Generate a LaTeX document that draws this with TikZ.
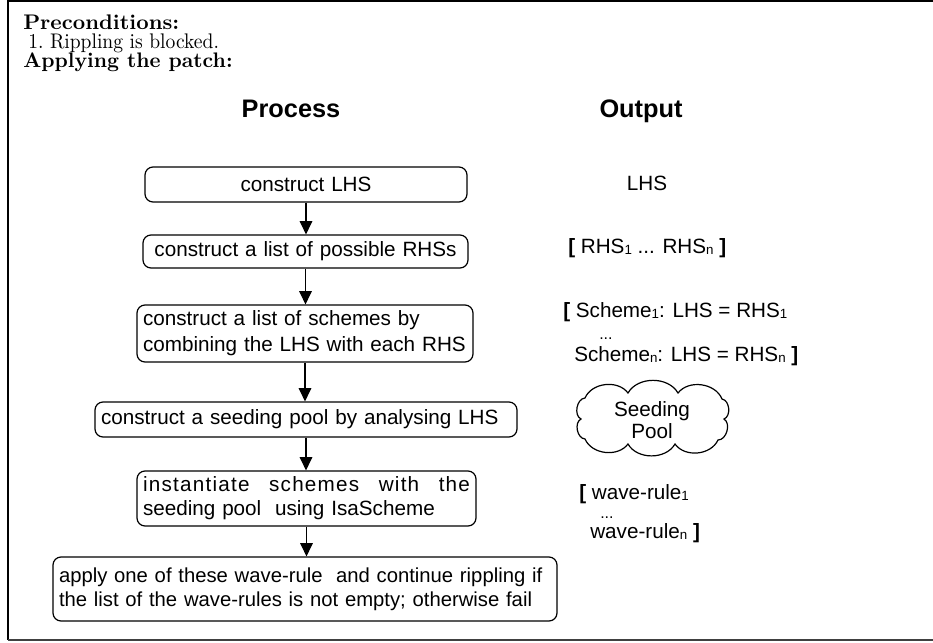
\documentclass[tikz,border=0pt]{standalone}
\usepackage{fontspec}
\newfontfamily\hv{Liberation Sans}
\usetikzlibrary{arrows.meta}
\newcommand\sbs[1]{{\fontsize{10}{10}\selectfont\raisebox{-1pt}{#1}}}
\newcommand\brk[1]{{\bfseries #1}}
\begin{document}
\begin{tikzpicture}[x=0.75pt,y=-0.75pt,
  proc/.style={draw,rounded corners=6pt,line width=0.9pt,inner xsep=4.5pt,inner ysep=0pt,
    font=\hv\fontsize{15.5}{18}\selectfont},
  arr/.style={-{Triangle[length=10pt,width=9.5pt]},line width=0.9pt},
  outtxt/.style={font=\hv\fontsize{15.5}{18}\selectfont,inner sep=0pt,anchor=base west},
  dots/.style={font=\hv\fontsize{12}{12}\selectfont,inner sep=0pt,anchor=base west},
  headtxt/.style={font=\fontsize{10}{12}\selectfont\bfseries,inner sep=0pt,anchor=base west},
  bodytxt/.style={font=\fontsize{10}{12}\selectfont,inner sep=0pt,anchor=base west},
  coltitle/.style={font=\hv\fontsize{19}{22}\selectfont\bfseries,inner sep=0pt,anchor=base},
  puff/.style={line width=0.9pt}]
\useasboundingbox (0,0) rectangle (933,643);
% frame
\draw[line width=1pt] (933,1) -- (8,1) -- (8,640);
\draw[line width=1.6pt,black!75] (8,640) -- (933,640);
% header texts
\node[headtxt] (pre) at (23,29) {\resizebox{117pt}{11pt}{Preconditions:}};
\node[bodytxt] (item) at (28,48) {\resizebox{143pt}{11pt}{1.\ Rippling is blocked.}};
\node[headtxt] (app) at (23,67) {\resizebox{157pt}{11pt}{Applying the patch:}};
% column titles
\node[coltitle] (proc) at (291,117) {Process};
\node[coltitle] (outp) at (641,117) {Output};
% process boxes
\node[proc,text width=232.5pt,minimum height=26.25pt,align=center] (b1) at (306,184.5) {construct LHS};
\node[proc,text width=234.75pt,minimum height=24.75pt,align=center] (b2) at (305.5,251.5) {construct a list of possible RHSs};
\node[proc,text width=243pt,minimum height=42.75pt,align=left,font=\hv\fontsize{15.5}{19.5}\selectfont] (b3) at (305,333.5) {construct a list of schemes by\\combining the LHS with each RHS};
\node[proc,text width=307.5pt,minimum height=26.25pt,align=left] (b4) at (306,419.5) {construct a seeding pool by analysing LHS};
\node[proc,text width=245.25pt,minimum height=41.25pt,align=left] (b5) at (306.5,498.5) {{\addfontfeatures{LetterSpace=6}instantiate\hfill schemes\hfill with\hfill the}\\seeding pool\ \ using IsaScheme};
\node[proc,text width=369pt,minimum height=48pt,align=left,inner xsep=4.5pt,font=\hv\fontsize{15.2}{18}\selectfont] (b6) at (305,589) {apply one of these wave-rule\ \ and continue rippling if\\the list of the wave-rules is not empty; otherwise fail};
% arrows
\draw[arr] (b1.south) -- (b1.south |- b2.north);
\draw[arr] (b2.south) -- (b2.south |- b3.north);
\draw[arr] (b3.south) -- (b3.south |- b4.north);
\draw[arr] (b4.south) -- (b4.south |- b5.north);
\draw[arr] (b5.south) -- (b5.south |- b6.north);
% outputs
\node[outtxt,anchor=base] (o1) at (647,190) {LHS};
\node[outtxt] (o2) at (568,253) {\brk{[} RHS\sbs{1} ... RHS\sbs{n} \brk{]}};
\node[outtxt] (o3a) at (563,317) {\brk{[} Scheme\sbs{1}: LHS = RHS\sbs{1}};
\node[dots] (o3b) at (599,339) {...};
\node[outtxt] (o3c) at (574,361) {Scheme\sbs{n}: LHS = RHS\sbs{n} \brk{]}};
% seeding pool cloud
\node[align=center,inner sep=0pt,font=\hv\fontsize{15.5}{16.5}\selectfont] (pool) at (652,420) {Seeding\\Pool};
\draw[puff] (585,398) to[bend left=60] (628,393) to[bend left=60] (678,393) to[bend left=60] (722,399)
  to[bend left=75] (724,419) to[bend left=75] (718,440)
  to[bend left=60] (675,444) to[bend left=60] (628,444) to[bend left=60] (585,439)
  to[bend left=75] (581,419) to[bend left=75] cycle;
\node[outtxt] (o5a) at (579,499) {\brk{[} wave-rule\sbs{1}};
\node[dots] (o5b) at (600,518) {...};
\node[outtxt] (o5c) at (590,538) {wave-rule\sbs{n} \brk{]}};
\end{tikzpicture}
\end{document}
